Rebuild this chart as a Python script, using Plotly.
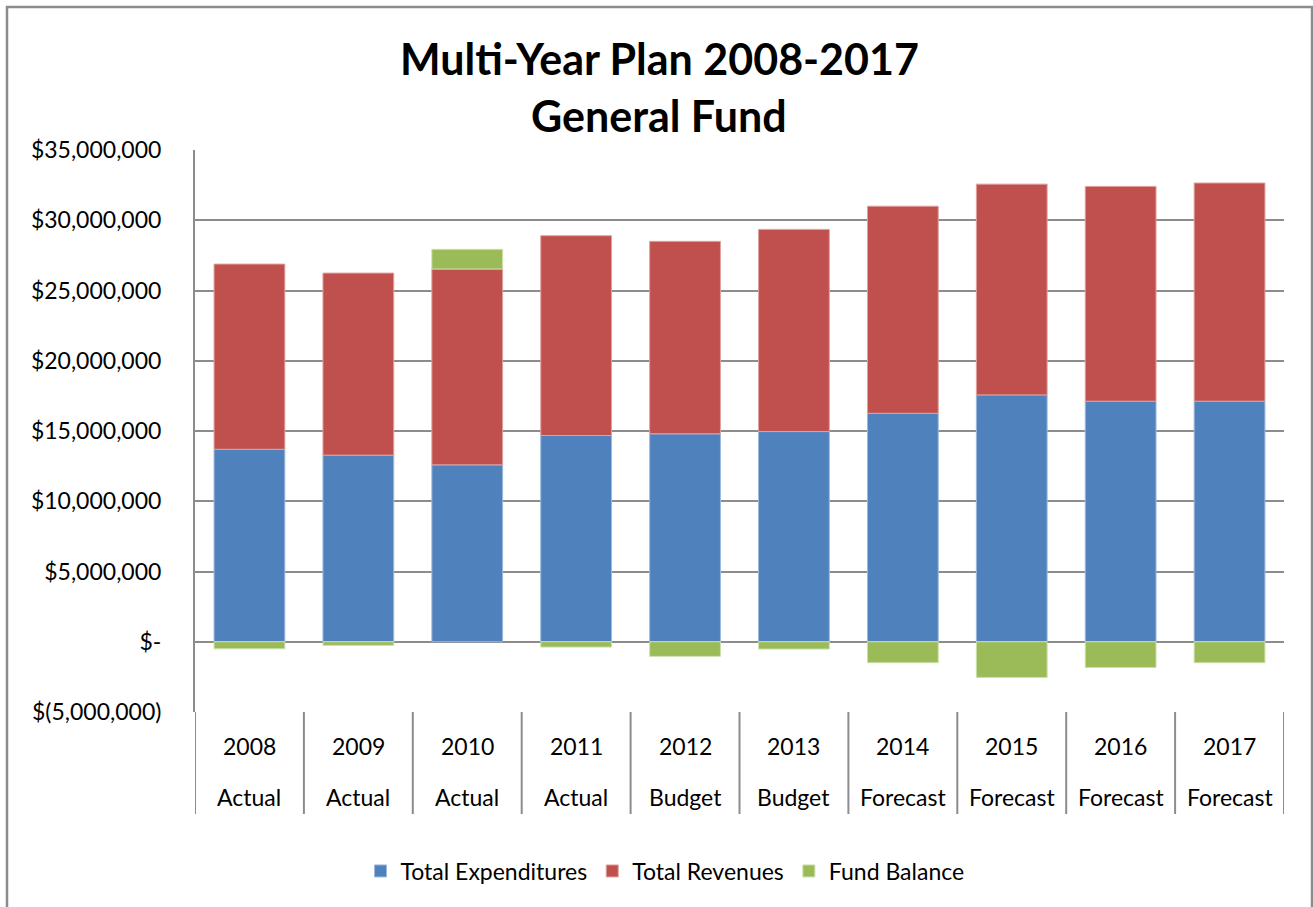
import plotly.graph_objects as go

years = ["2008", "2009", "2010", "2011", "2012", "2013", "2014", "2015", "2016", "2017"]
kinds = ["Actual", "Actual", "Actual", "Actual", "Budget", "Budget",
         "Forecast", "Forecast", "Forecast", "Forecast"]
expenditures = [13700000, 13280000, 12590000, 14680000, 14800000, 14960000,
                16260000, 17570000, 17120000, 17120000]
revenues = [13180000, 12960000, 13940000, 14220000, 13700000, 14390000,
            14740000, 15000000, 15290000, 15530000]
fund_balance = [-500000, -260000, 1400000, -380000, -1040000, -520000,
                -1490000, -2540000, -1830000, -1490000]
tick_vals = [35000000, 30000000, 25000000, 20000000, 15000000, 10000000, 5000000, 0, -5000000]
tick_text = ["$35,000,000", "$30,000,000", "$25,000,000", "$20,000,000", "$15,000,000",
             "$10,000,000", "$5,000,000", "$-", "$(5,000,000)"]

FONT = "Lato"
GRID = "#8c8c8c"
W, H = 1313, 907
L, R, T, B = 195, 29, 150, 195
PW, PH = W - L - R, H - T - B

def px_x(x):
    return (x - L) / PW

def px_y(y):
    return (H - B - y) / PH

xs = list(range(len(years)))

fig = go.Figure()
fig.add_trace(go.Bar(x=xs, y=expenditures, name="Total Expenditures",
                     marker=dict(color="#4F81BD", line=dict(color="#9DB9DD", width=1))))
fig.add_trace(go.Bar(x=xs, y=revenues, name="Total Revenues",
                     marker=dict(color="#C0504D", line=dict(color="#E0A09E", width=1))))
fig.add_trace(go.Bar(x=xs, y=fund_balance, name="Fund Balance",
                     marker=dict(color="#9BBB59", line=dict(color="#CBE0AA", width=1))))

shapes = []
# dividers below the category axis
for i in range(len(years) + 1):
    shapes.append(dict(type="line", xref="x", yref="paper", x0=i - 0.5, x1=i - 0.5,
                       y0=0, y1=px_y(814), line=dict(color=GRID, width=2)))
# outer chart border
shapes.append(dict(type="rect", xref="paper", yref="paper",
                   x0=px_x(7), x1=px_x(1312), y0=px_y(912), y1=px_y(7),
                   line=dict(color=GRID, width=2.5), fillcolor="rgba(0,0,0,0)", layer="below"))

annotations = []
for i, (yr, k) in enumerate(zip(years, kinds)):
    annotations.append(dict(x=i, y=px_y(746), xref="x", yref="paper", text=yr,
                            showarrow=False, yanchor="middle",
                            font=dict(family=FONT, size=23, color="#000")))
    annotations.append(dict(x=i, y=px_y(797), xref="x", yref="paper", text=k,
                            showarrow=False, yanchor="middle",
                            font=dict(family=FONT, size=23, color="#000")))
annotations.append(dict(x=px_x(659), y=px_y(59), xref="paper", yref="paper",
                        text="<b>Multi-Year Plan 2008-2017</b>", showarrow=False,
                        yanchor="middle", font=dict(family=FONT, size=43, color="#000")))
annotations.append(dict(x=px_x(659), y=px_y(115), xref="paper", yref="paper",
                        text="<b>General Fund</b>", showarrow=False,
                        yanchor="middle", font=dict(family=FONT, size=43, color="#000")))

fig.update_layout(
    width=W, height=H,
    margin=dict(l=L, r=R, t=T, b=B),
    paper_bgcolor="white", plot_bgcolor="white",
    barmode="relative", bargap=0.35,
    font=dict(family=FONT, size=20, color="#000"),
    shapes=shapes, annotations=annotations,
    showlegend=True,
    legend=dict(orientation="h", x=px_x(665), xanchor="center", y=px_y(871),
                yanchor="middle", font=dict(family=FONT, size=23, color="#000"),
                itemwidth=30, bgcolor="rgba(0,0,0,0)"),
    xaxis=dict(range=[-0.5, len(years) - 0.5], showticklabels=False, showgrid=False,
               zeroline=False, showline=False, ticks=""),
    yaxis=dict(range=[-5000000, 35000000], tickvals=tick_vals, ticktext=tick_text,
               showgrid=True, gridcolor=GRID, gridwidth=2, zeroline=False,
               showline=True, linecolor=GRID, linewidth=2, ticks="",
               ticklabelstandoff=27, tickfont=dict(family=FONT, size=23, color="#000")),
)

fig.write_html("out.html")
